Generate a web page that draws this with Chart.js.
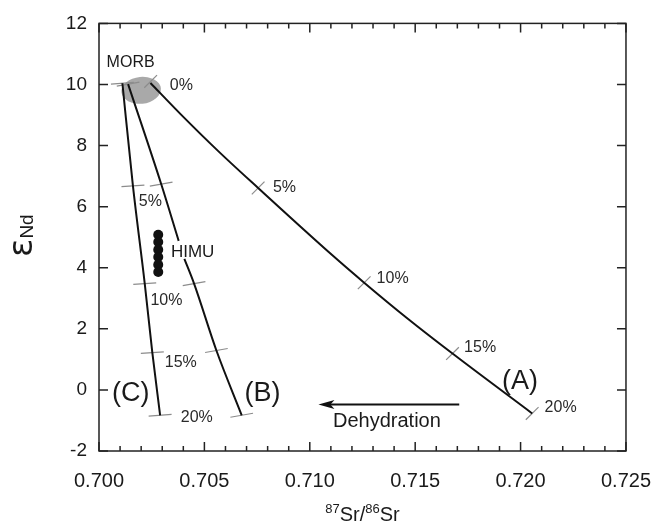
<!DOCTYPE html>
<html>
<head>
<meta charset="utf-8">
<script src="https://cdn.jsdelivr.net/npm/chart.js@4/dist/chart.umd.min.js"></script>
<style>
  body { margin: 0; background: #fff; }
  canvas { display: block; }
</style>
</head>
<body>
<canvas id="srNdChart" width="669" height="522"></canvas>
<script>
// 87Sr/86Sr gegen eNd: Dehydrationspfade (A), (B), (C) ausgehend von MORB

// Kurven (null = Unterbruch hinter dem HIMU-Label)
const curveA_sr = [0.70244, 0.70387, 0.70567, 0.70755, 0.71110, 0.71258, 0.71465, 0.71677, 0.72055];
const curveA_nd = [10.05, 9.03, 7.81, 6.61, 4.39, 3.51, 2.33, 1.19, -0.77];
const curveB_sr = [0.70138, 0.70295, 0.70378, null, 0.70405, 0.70451, 0.70557, 0.70677];
const curveB_nd = [10.01, 6.74, 4.88, null, 4.29, 3.48, 1.29, -0.83];

// Markierungen 0, 5, 10, 15, 20 %
const percents = ['0%', '5%', '10%', '15%', '20%'];
const marksA_sr = [0.70245, 0.70755, 0.71258, 0.71677, 0.72055];
const marksA_nd = [10.10, 6.61, 3.51, 1.19, -0.77];
const marksB_sr = [0.70138, 0.70295, 0.70451, 0.70557, 0.70677];
const marksB_nd = [10.01, 6.74, 3.48, 1.29, -0.83];
const marksC_sr = [0.70111, 0.70161, 0.70217, 0.70253, 0.70290];
const marksC_nd = [10.04, 6.68, 3.48, 1.22, -0.83];

// Prozent-Beschriftungen: entlang A, und gemeinsam zwischen B und C (ohne 0%)
const labelsA_sr = [0.70336, 0.70825, 0.71317, 0.71732, 0.72114];
const labelsA_nd = [9.98, 6.61, 3.66, 1.37, -0.59];
const labelsBC_sr = [0.70189, 0.70244, 0.70312, 0.70388];
const labelsBC_nd = [6.17, 2.92, 0.88, -0.92];

// HIMU Proben
const himu_sr = [0.70281, 0.70281, 0.70281, 0.70281, 0.70281, 0.70281];
const himu_nd = [5.08, 4.84, 4.59, 4.35, 4.10, 3.86];

// MORB Feld (Mitte und Halbachsen)
const morb = { sr: 0.70200, nd: 9.81, dSr: 0.00094, dNd: 0.44 };

// Pfeil "Dehydration"
const arrow_sr = [0.71709, 0.71041];
const arrow_nd = [-0.475, -0.475];

const notes = [
  { text: 'MORB', sr: 0.70150, nd: 10.71, size: 16, align: 'center' },
  { text: 'HIMU', sr: 0.70341, nd: 4.50, size: 17, align: 'left' },
  { text: '(A)', sr: 0.71997, nd: 0.29, size: 27, align: 'center' },
  { text: '(B)', sr: 0.70776, nd: -0.13, size: 27, align: 'center' },
  { text: '(C)', sr: 0.70151, nd: -0.13, size: 27, align: 'center' },
  { text: 'Dehydration', sr: 0.71110, nd: -1.03, size: 20, align: 'left' }
];

const FONT = '"Liberation Sans", Arial, sans-serif';
Chart.defaults.font.family = FONT;
Chart.defaults.color = '#1a1a1a';

function pts(xs, ys) {
  return xs.map((x, i) => ({ x: x, y: ys[i] }));
}

function curve(xs, ys) {
  return {
    data: pts(xs, ys), showLine: true, borderColor: '#111', borderWidth: 2,
    pointRadius: 0, spanGaps: false, cubicInterpolationMode: 'monotone'
  };
}

function marks(xs, ys, radius, rotation) {
  return {
    data: pts(xs, ys), showLine: false, pointStyle: 'line', pointRadius: radius,
    pointRotation: rotation, pointBorderColor: '#8c8c8c', pointBorderWidth: 1.2
  };
}

// Rahmen mit Ticks nach innen auf allen vier Seiten
const frame = {
  id: 'frame',
  afterDraw(chart) {
    const { ctx, chartArea: a, scales: { x, y } } = chart;
    ctx.save();
    ctx.strokeStyle = '#222';
    ctx.lineWidth = 1.5;
    ctx.strokeRect(a.left, a.top, a.right - a.left, a.bottom - a.top);
    ctx.beginPath();
    for (let i = 0; i <= 25; i++) {
      const px = x.getPixelForValue(0.700 + i * 0.001);
      const len = i % 5 === 0 ? 9 : 5;
      ctx.moveTo(px, a.bottom); ctx.lineTo(px, a.bottom - len);
      ctx.moveTo(px, a.top); ctx.lineTo(px, a.top + len);
    }
    for (let v = -2; v <= 12; v += 2) {
      const py = y.getPixelForValue(v);
      ctx.moveTo(a.left, py); ctx.lineTo(a.left + 9, py);
      ctx.moveTo(a.right, py); ctx.lineTo(a.right - 9, py);
    }
    ctx.stroke();
    ctx.restore();
  }
};

// MORB Ellipse hinter den Kurven
const morbField = {
  id: 'morbField',
  beforeDatasetsDraw(chart) {
    const { ctx, scales: { x, y } } = chart;
    const cx = x.getPixelForValue(morb.sr), cy = y.getPixelForValue(morb.nd);
    const rx = x.getPixelForValue(morb.sr + morb.dSr) - cx;
    const ry = cy - y.getPixelForValue(morb.nd + morb.dNd);
    ctx.save();
    ctx.fillStyle = '#a9a9a9';
    ctx.beginPath();
    ctx.ellipse(cx, cy, rx, ry, -0.1, 0, Math.PI * 2);
    ctx.fill();
    ctx.restore();
  }
};

// Texte, Pfeil und Achsentitel
const annotations = {
  id: 'annotations',
  afterDatasetsDraw(chart) {
    const { ctx, chartArea: a, scales: { x, y } } = chart;
    ctx.save();
    ctx.fillStyle = '#1a1a1a';
    ctx.textBaseline = 'middle';

    notes.forEach(n => {
      ctx.font = n.size + 'px ' + FONT;
      ctx.textAlign = n.align;
      ctx.fillText(n.text, x.getPixelForValue(n.sr), y.getPixelForValue(n.nd));
    });

    ctx.font = '16px ' + FONT;
    ctx.fillStyle = '#2a2a2a';
    ctx.textAlign = 'left';
    labelsA_sr.forEach((sr, i) => {
      ctx.fillText(percents[i], x.getPixelForValue(sr), y.getPixelForValue(labelsA_nd[i]));
    });
    labelsBC_sr.forEach((sr, i) => {
      ctx.fillText(percents[i + 1], x.getPixelForValue(sr), y.getPixelForValue(labelsBC_nd[i]));
    });

    // Pfeil nach links
    const x0 = x.getPixelForValue(arrow_sr[0]), x1 = x.getPixelForValue(arrow_sr[1]);
    const y0 = y.getPixelForValue(arrow_nd[0]), y1 = y.getPixelForValue(arrow_nd[1]);
    ctx.strokeStyle = '#111';
    ctx.fillStyle = '#111';
    ctx.lineWidth = 2;
    ctx.beginPath();
    ctx.moveTo(x0, y0); ctx.lineTo(x1 + 10, y1);
    ctx.stroke();
    ctx.beginPath();
    ctx.moveTo(x1, y1);
    ctx.lineTo(x1 + 16, y1 - 4.5);
    ctx.lineTo(x1 + 12, y1);
    ctx.lineTo(x1 + 16, y1 + 4.5);
    ctx.closePath();
    ctx.fill();

    // x Titel: 87Sr/86Sr
    ctx.fillStyle = '#1a1a1a';
    ctx.textBaseline = 'alphabetic';
    ctx.textAlign = 'left';
    const parts = [['87', 13, -8], ['Sr', 20, 0], ['/', 20, 0], ['86', 13, -8], ['Sr', 20, 0]];
    let total = 0;
    parts.forEach(p => { ctx.font = p[1] + 'px ' + FONT; total += ctx.measureText(p[0]).width; });
    let tx = (a.left + a.right) / 2 - total / 2;
    parts.forEach(p => {
      ctx.font = p[1] + 'px ' + FONT;
      ctx.fillText(p[0], tx, 521 + p[2]);
      tx += ctx.measureText(p[0]).width;
    });

    // y Titel: eps_Nd, gedreht
    ctx.translate(33, 234);
    ctx.rotate(-Math.PI / 2);
    ctx.font = '34px "DejaVu Sans", sans-serif';
    ctx.fillText('ε', -23, -1);
    const we = ctx.measureText('ε').width;
    ctx.font = '19px ' + FONT;
    ctx.fillText('Nd', -23 + we, 0);
    ctx.restore();
  }
};

new Chart(document.getElementById('srNdChart'), {
  type: 'scatter',
  data: {
    datasets: [
      curve(curveA_sr, curveA_nd),
      curve(curveB_sr, curveB_nd),
      curve(marksC_sr, marksC_nd),
      marks(marksA_sr, marksA_nd, 9, -45),
      marks(marksB_sr, marksB_nd, 11.5, -10),
      marks(marksC_sr, marksC_nd, 11.5, -4),
      { data: pts(himu_sr, himu_nd), pointRadius: 5, pointBackgroundColor: '#111',
        pointBorderColor: '#111', pointBorderWidth: 0 }
    ]
  },
  options: {
    responsive: false,
    animation: false,
    layout: { padding: { top: 22, right: 27, left: 0, bottom: 0 } },
    plugins: { legend: { display: false }, tooltip: { enabled: false } },
    scales: {
      x: {
        type: 'linear', min: 0.700, max: 0.725,
        grid: { display: false, drawTicks: false },
        border: { display: false },
        ticks: { stepSize: 0.005, maxRotation: 0, padding: 18, font: { size: 20 },
                 callback: v => v.toFixed(3) },
        afterFit: s => { s.height = 71; }
      },
      y: {
        type: 'linear', min: -2, max: 12,
        grid: { display: false, drawTicks: false },
        border: { display: false },
        ticks: { stepSize: 2, padding: 12, font: { size: 19 } },
        afterFit: s => { s.width = 99; }
      }
    }
  },
  plugins: [morbField, frame, annotations]
});
</script>
</body>
</html>
